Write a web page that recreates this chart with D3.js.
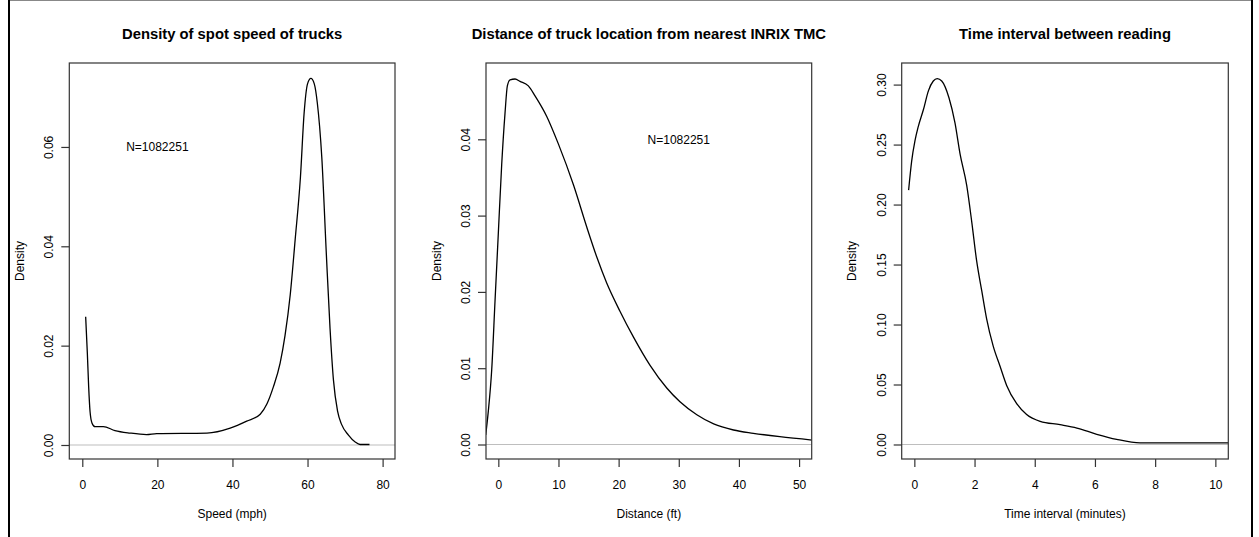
<!DOCTYPE html>
<html>
<head>
<meta charset="utf-8">
<script src="https://cdn.jsdelivr.net/npm/d3@7"></script>
<style>
  html, body { margin: 0; padding: 0; background: #fff; }
  svg { display: block; font-family: "Liberation Sans", Arial, sans-serif; }
</style>
</head>
<body>
<svg id="chart" width="1259" height="537"></svg>
<script>
// ---------- data ----------
const titles = [
  "Density of spot speed of trucks",
  "Distance of truck location from nearest INRIX TMC",
  "Time interval between reading"
];
const xAxisLabels = ["Speed (mph)", "Distance (ft)", "Time interval (minutes)"];
const yAxisLabel = "Density";

const speedX = [0.9, 1.34, 1.7, 2.06, 2.6, 3.4, 5.6, 8.7, 12.7, 17.1, 19.8, 33.2, 39.4, 43.8, 47.4, 49.2, 50.9, 52.7, 54.0, 55.4, 56.7, 58.1, 59.1, 60.0, 60.9, 61.8, 62.6, 63.8, 65.0, 66.0, 66.9, 68.0, 69.1, 70.9, 72.7, 74.0, 76.5];
const speedY = [0.0258, 0.0186, 0.0117, 0.0068, 0.0044, 0.0037, 0.0037, 0.0029, 0.0024, 0.0021, 0.0023, 0.0024, 0.0034, 0.0048, 0.0062, 0.0083, 0.0117, 0.0165, 0.0220, 0.0303, 0.0413, 0.0538, 0.0669, 0.0727, 0.0738, 0.0727, 0.0689, 0.0579, 0.0386, 0.0234, 0.0131, 0.0068, 0.0041, 0.0020, 0.0006, 0.0001, 0.0001];

const distX = [-2.1, -1.66, -1.1, -0.55, 0.0, 0.56, 1.11, 1.5, 1.95, 2.78, 3.6, 4.99, 6.1, 8.05, 9.98, 12.5, 14.7, 16.4, 18.0, 20.2, 22.45, 25.2, 28.0, 30.2, 33.0, 35.8, 39.1, 42.4, 46.8, 52.2];
const distY = [0.00125, 0.0044, 0.0098, 0.0188, 0.0277, 0.0367, 0.0434, 0.0470, 0.0478, 0.0479, 0.0476, 0.0470, 0.0457, 0.0430, 0.0394, 0.0340, 0.0285, 0.0245, 0.0212, 0.0175, 0.0141, 0.0104, 0.0074, 0.0056, 0.0039, 0.0027, 0.0019, 0.00147, 0.00102, 0.00058];

const timeX = [-0.19, -0.09, 0.02, 0.13, 0.30, 0.47, 0.63, 0.76, 0.91, 1.15, 1.35, 1.52, 1.74, 1.91, 2.07, 2.24, 2.40, 2.62, 2.85, 3.07, 3.40, 3.73, 4.18, 4.84, 5.40, 6.06, 6.72, 7.50, 8.27, 10.43];
const timeY = [0.212, 0.236, 0.253, 0.265, 0.279, 0.295, 0.303, 0.305, 0.303, 0.289, 0.268, 0.242, 0.216, 0.185, 0.153, 0.128, 0.105, 0.082, 0.065, 0.049, 0.034, 0.025, 0.0193, 0.0165, 0.0137, 0.0085, 0.0043, 0.0014, 0.0014, 0.0014];

const speedXTicks = [0, 20, 40, 60, 80];
const distXTicks = [0, 10, 20, 30, 40, 50];
const timeXTicks = [0, 2, 4, 6, 8, 10];
const speedYTicks = [0, 0.02, 0.04, 0.06];
const distYTicks = [0, 0.01, 0.02, 0.03, 0.04];
const timeYTicks = [0, 0.05, 0.10, 0.15, 0.20, 0.25, 0.30];

const speedXDomain = [-3.46, 83.3];
const distXDomain = [-2.05, 52.1];
const timeXDomain = [-0.42, 10.43];
const speedYDomain = [-0.00282, 0.0769];
const distYDomain = [-0.0019, 0.0500];
const timeYDomain = [-0.0121, 0.3180];

const annotationText = "N=1082251";
const annotations = [[20, 0.06], [30, 0.04], null];

// ---------- layout ----------
const panels = [
  { x: speedX, y: speedY, xt: speedXTicks, yt: speedYTicks, xd: speedXDomain, yd: speedYDomain, left: 69.3, right: 395 },
  { x: distX, y: distY, xt: distXTicks, yt: distYTicks, xd: distXDomain, yd: distYDomain, left: 486, right: 811.7 },
  { x: timeX, y: timeY, xt: timeXTicks, yt: timeYTicks, xd: timeXDomain, yd: timeYDomain, left: 901.7, right: 1228.3 }
];
const plotTop = 63, plotBottom = 459;

const svg = d3.select("#chart");

// outer frame
svg.append("line").attr("x1", 9).attr("x2", 1253).attr("y1", 0.5).attr("y2", 0.5)
  .attr("stroke", "#888").attr("stroke-width", 1);
svg.append("line").attr("x1", 9).attr("x2", 9).attr("y1", 0).attr("y2", 537)
  .attr("stroke", "#000").attr("stroke-width", 2);
svg.append("line").attr("x1", 1252).attr("x2", 1252).attr("y1", 0).attr("y2", 537)
  .attr("stroke", "#000").attr("stroke-width", 2);

const fmt = d3.format(".2f");

panels.forEach((p, i) => {
  const xs = d3.scaleLinear().domain(p.xd).range([p.left, p.right]);
  const ys = d3.scaleLinear().domain(p.yd).range([plotBottom, plotTop]);
  const g = svg.append("g");

  const clipId = "clip" + i;
  svg.append("clipPath").attr("id", clipId).append("rect")
    .attr("x", p.left).attr("y", plotTop).attr("width", p.right - p.left).attr("height", plotBottom - plotTop);

  // zero reference line
  g.append("line")
    .attr("x1", p.left).attr("x2", p.right)
    .attr("y1", ys(0)).attr("y2", ys(0))
    .attr("stroke", "#bebebe").attr("stroke-width", 1.2);

  // density curve
  const pts = p.x.map((v, k) => [v, p.y[k]]);
  g.append("path")
    .datum(pts)
    .attr("clip-path", `url(#${clipId})`)
    .attr("fill", "none")
    .attr("stroke", "#000")
    .attr("stroke-width", 1.3)
    .attr("d", d3.line().x(d => xs(d[0])).y(d => ys(d[1])).curve(d3.curveMonotoneX));

  // box
  g.append("rect")
    .attr("x", p.left).attr("y", plotTop)
    .attr("width", p.right - p.left).attr("height", plotBottom - plotTop)
    .attr("fill", "none").attr("stroke", "#333").attr("stroke-width", 1.2);

  // x axis (R style: ticks below box)
  const xAxis = d3.axisBottom(xs).tickValues(p.xt).tickSize(8).tickSizeOuter(0).tickPadding(4)
    .tickFormat(d3.format("d"));
  const xg = g.append("g").attr("transform", `translate(0,${plotBottom})`).call(xAxis);
  xg.select(".domain").remove();
  xg.selectAll(".tick line").attr("stroke", "#333").attr("stroke-width", 1.2);
  xg.selectAll(".tick text").attr("font-size", 12).attr("fill", "#000")
    .attr("font-family", "Liberation Sans, Arial, sans-serif")
    .attr("dy", null).attr("y", 29.5);

  // y axis
  const yAxis = d3.axisLeft(ys).tickValues(p.yt).tickSize(8).tickSizeOuter(0).tickFormat(fmt);
  const yg = g.append("g").attr("transform", `translate(${p.left},0)`).call(yAxis);
  yg.select(".domain").remove();
  yg.selectAll(".tick line").attr("stroke", "#333").attr("stroke-width", 1.2);
  yg.selectAll(".tick text")
    .attr("font-size", 12).attr("fill", "#000")
    .attr("font-family", "Liberation Sans, Arial, sans-serif")
    .attr("x", null).attr("dy", null)
    .attr("text-anchor", "middle")
    .attr("transform", "translate(-16,0) rotate(-90)");

  // title
  svg.append("text")
    .attr("x", (p.left + p.right) / 2).attr("y", 38.5)
    .attr("text-anchor", "middle")
    .attr("font-size", 14.8).attr("font-weight", "bold").attr("fill", "#000")
    .text(titles[i]);

  // x axis label
  svg.append("text")
    .attr("x", (p.left + p.right) / 2).attr("y", 518)
    .attr("text-anchor", "middle").attr("font-size", 12).attr("fill", "#000")
    .text(xAxisLabels[i]);

  // y axis label
  svg.append("text")
    .attr("transform", `translate(${p.left - 45.5},${(plotTop + plotBottom) / 2}) rotate(-90)`)
    .attr("text-anchor", "middle").attr("font-size", 12).attr("fill", "#000")
    .text(yAxisLabel);

  // annotation
  if (annotations[i]) {
    svg.append("text")
      .attr("x", xs(annotations[i][0])).attr("y", ys(annotations[i][1]))
      .attr("dy", "0.35em")
      .attr("text-anchor", "middle").attr("font-size", 12).attr("fill", "#000")
      .text(annotationText);
  }
});
</script>
</body>
</html>
